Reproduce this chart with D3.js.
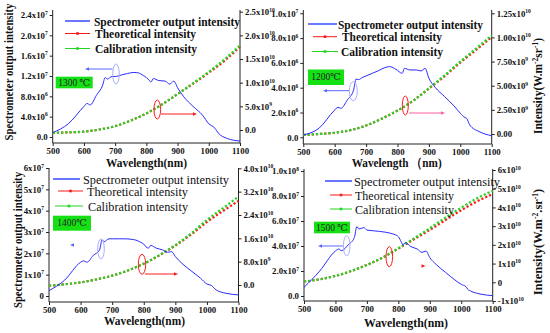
<!DOCTYPE html>
<html>
<head>
<meta charset="utf-8">
<script src="https://cdn.jsdelivr.net/npm/d3@7"></script>
<style>
  body { margin: 0; background: #fff; }
  svg { display: block; }
  svg text { font-family: "Liberation Serif", "DejaVu Serif", serif; }
</style>
</head>
<body>
<svg id="chart" width="550" height="333"></svg>
<script>
"use strict";

// Wavelengths (nm) where the spectrometer curves were read
const specWavelength = [500, 550, 600, 610, 620, 640, 660, 668, 675, 690, 700, 720, 740, 760, 775, 790, 800, 810, 815, 822, 840, 860, 875, 888, 900, 920, 950, 980, 1000, 1015, 1020, 1030, 1060, 1100];

// Spectrometer output intensity for each temperature
const spec1300 = [0.085, 0.26, 0.60, 0.66, 0.63, 0.82, 1.02, 1.17, 1.14, 1.19, 1.19, 1.22, 1.25, 1.27, 1.26, 1.21, 1.17, 1.11, 1.08, 1.15, 1.11, 1.10, 1.04, 1.10, 0.97, 0.79, 0.60, 0.43, 0.26, 0.20, 0.17, 0.08, -0.03, -0.08]; // x1e7
const spec1200 = [0.19, 0.73, 2.2, 2.42, 2.34, 3.0, 3.8, 4.7, 4.65, 4.85, 4.95, 5.16, 5.38, 5.62, 5.7, 5.56, 5.4, 5.2, 5.16, 5.56, 5.43, 5.43, 5.35, 5.56, 4.76, 4.03, 3.28, 2.53, 1.94, 1.59, 1.53, 1.0, 0.46, 0.13]; // x1e6
const spec1400 = [0.25, 0.75, 1.58, 1.65, 1.58, 1.9, 2.16, 2.63, 2.55, 2.68, 2.68, 2.68, 2.68, 2.66, 2.62, 2.52, 2.43, 2.27, 2.25, 2.37, 2.24, 2.16, 2.05, 2.08, 1.85, 1.54, 1.18, 0.83, 0.56, 0.49, 0.41, 0.28, 0.13, 0.05]; // x1e7
const spec1500 = [0.69, 2.0, 3.6, 3.76, 3.63, 4.08, 4.67, 5.55, 5.36, 5.47, 5.28, 5.22, 5.17, 5.1, 5.02, 4.9, 4.75, 4.3, 4.08, 4.27, 3.95, 3.76, 3.49, 3.6, 3.07, 2.53, 1.89, 1.28, 0.93, 0.75, 0.56, 0.4, 0.16, 0.03]; // x1e7

// Wavelengths (nm) for the theoretical / calibration curves
const calWavelength = [500, 550, 600, 650, 700, 750, 800, 850, 900, 950, 1000, 1050, 1100];
const calib1300  = [-0.06, -0.05, -0.035, 0.01, 0.08, 0.20, 0.35, 0.54, 0.76, 0.99, 1.23, 1.49, 1.79]; // x1e10
const theory1300 = [-0.06, -0.05, -0.035, 0.01, 0.08, 0.20, 0.35, 0.54, 0.76, 0.98, 1.21, 1.46, 1.76];
const calib1200  = [-0.1, 0, 0.13, 0.4, 0.88, 1.59, 2.43, 3.45, 4.73, 6.08, 7.5, 8.85, 10.2]; // x1e9
const theory1200 = [-0.1, 0, 0.13, 0.4, 0.88, 1.59, 2.43, 3.45, 4.7, 6.0, 7.4, 8.7, 10.05];
const calib1400  = [-0.23, 0.23, 0.9, 1.9, 3.2, 5.0, 7.3, 10.3, 13.7, 17.7, 22.3, 26.3, 30.3]; // x1e9
const theory1400 = [-0.23, 0.23, 0.9, 1.9, 3.2, 5.0, 7.3, 10.2, 13.5, 17.3, 21.6, 25.3, 28.8];
const calib1500  = [0.04, 0.16, 0.34, 0.6, 0.93, 1.32, 1.82, 2.35, 2.89, 3.46, 3.99, 4.49, 4.88]; // x1e10
const theory1500 = [0.04, 0.16, 0.34, 0.6, 0.93, 1.32, 1.80, 2.30, 2.80, 3.33, 3.85, 4.32, 4.72];

// Tick values and labels ("^" starts the superscript)
const xTicks = [500, 600, 700, 800, 900, 1000, 1100];
const p1LeftTicks = [0, 0.4, 0.8, 1.2, 1.6, 2.0, 2.4];
const p1LeftLabels = ["0.0", "4.0x10^6", "8.0x10^6", "1.2x10^7", "1.6x10^7", "2.0x10^7", "2.4x10^7"];
const p1RightTicks = [0, 0.5, 1.0, 1.5, 2.0, 2.5];
const p1RightLabels = ["0.0", "5.0x10^9", "1.0x10^10", "1.5x10^10", "2.0x10^10", "2.5x10^10"];
const p2LeftTicks = [0, 2, 4, 6, 8, 10];
const p2LeftLabels = ["0.0", "2.0x10^6", "4.0x10^6", "6.0x10^6", "8.0x10^6", "1.0x10^7"];
const p2RightTicks = [0, 2.5, 5, 7.5, 10, 12.5];
const p2RightLabels = ["0.00", "2.50x10^9", "5.00x10^9", "7.50x10^9", "1.00x10^10", "1.25x10^10"];
const p3LeftTicks = [0, 1, 2, 3, 4, 5, 6];
const p3LeftLabels = ["0", "1x10^7", "2x10^7", "3x10^7", "4x10^7", "5x10^7", "6x10^7"];
const p3RightTicks = [0, 8, 16, 24, 32, 40];
const p3RightLabels = ["0.0", "8.0x10^9", "1.6x10^10", "2.4x10^10", "3.2x10^10", "4.0x10^10"];
const p4LeftTicks = [0, 2, 4, 6, 8, 10];
const p4LeftLabels = ["0.0", "2.0x10^7", "4.0x10^7", "6.0x10^7", "8.0x10^7", "1.0x10^8"];
const p4RightTicks = [-1, 0, 1, 2, 3, 4, 5, 6];
const p4RightLabels = ["-1x10^10", "0", "1x10^10", "2x10^10", "3x10^10", "4x10^10", "5x10^10", "6x10^10"];

const legendNames = ["Spectrometer output intensity", "Theoretical intensity", "Calibration intensity"];

const FONT = "Liberation Serif, DejaVu Serif, serif";
const BLUE = "#2a2aff", RED = "#ff1a1a", GREEN = "#22d622", BOX = "#14e014";

const panels = [
  { temp: "1300 \u2103", spec: spec1300, calib: calib1300, theory: theory1300,
    left: 52.7, right: 240, top: 10, bottom: 143,
    yL: [[0, 2.4], [137, 15]], yR: [[0, 2.5], [130, 11.7]],
    lt: [p1LeftTicks, p1LeftLabels], rt: [p1RightTicks, p1RightLabels],
    legend: { bold: true, lines: [[65, 90], [65, 90], [65, 90]], tx: [94, 95, 95], ty: [21, 33.5, 48.5], tw: [146, 101, 102] },
    box: [55.7, 76.7, 37, 11.6],
    xTitle: ["Wavelength(nm)", 146.5, 167, 81],
    yTitle: ["left", 12.5, 72, 137],
    blueNote: { e: [116, 74, 3.3, 10], a: [112.5, 69, 85, 69] },
    redNote: { e: [157.3, 109.5, 3.3, 9.5], a: [161, 114, 197, 114], color: RED } },
  { temp: "1200\u2103", spec: spec1200, calib: calib1200, theory: theory1200,
    left: 303.3, right: 491.7, top: 10, bottom: 144,
    yL: [[0, 10], [137.3, 13.3]], yR: [[0, 12.5], [134, 13.3]],
    lt: [p2LeftTicks, p2LeftLabels], rt: [p2RightTicks, p2RightLabels],
    legend: { bold: true, lines: [[308, 337], [313, 337], [312, 338]], tx: [338, 342, 341], ty: [24, 36.7, 51.5], tw: [145, 100, 102] },
    box: [308, 69.5, 36, 15.5],
    xTitle: ["Wavelength \uff08nm)", 396.7, 166.5, 90],
    yTitle: ["right", 542, 86, 98],
    blueNote: { e: [353.3, 91.2, 4, 9.5], a: [349, 90.7, 323, 90.7] },
    redNote: { e: [405.3, 105.5, 3, 9.5], a: [409, 113, 445, 113], color: "#ff5f9f" } },
  { temp: "1400\u2103", spec: spec1400, calib: calib1400, theory: theory1400,
    left: 49, right: 238.5, top: 168, bottom: 302,
    yL: [[0, 6], [296, 168]], yR: [[0, 40], [285, 168.3]],
    lt: [p3LeftTicks, p3LeftLabels], rt: [p3RightTicks, p3RightLabels],
    legend: { bold: false, lines: [[53, 80], [58, 83], [55, 83]], tx: [83, 87, 88], ty: [179, 191, 206], tw: [146, 101, 100] },
    box: [53, 215.7, 38, 15],
    xTitle: ["Wavelength(nm)", 144.5, 325, 81],
    yTitle: ["left", 22, 240, 136],
    blueNote: { e: [101, 249, 3.3, 10], a: [73, 245, 70, 245] },
    redNote: { e: [142, 264.3, 3.7, 10], a: [145, 274, 178, 274], color: RED } },
  { temp: "1500 \u2103", spec: spec1500, calib: calib1500, theory: theory1500,
    left: 304, right: 492.7, top: 169, bottom: 301,
    yL: [[0, 10], [296, 171]], yR: [[-1, 6], [301, 170]],
    lt: [p4LeftTicks, p4LeftLabels], rt: [p4RightTicks, p4RightLabels],
    legend: { bold: false, lines: [[325, 352], [330, 352], [330, 352]], tx: [354, 355, 355], ty: [181, 195, 209], tw: [146, 99, 99] },
    box: [314, 221.7, 36, 11.6],
    xTitle: ["Wavelength(nm)", 406, 326.5, 84],
    yTitle: ["right2", 542, 242, 105],
    blueNote: { e: [346.7, 245.8, 3.3, 10], a: [343, 246, 318, 246] },
    redNote: { e: [389.3, 256.7, 3.3, 10], a: [423, 266, 425.5, 266], color: RED } }
];

const svg = d3.select("#chart").attr("font-family", FONT);

// Write "2.4x10^7" as base text plus a raised exponent
function superLabel(text, label) {
  const parts = label.split("^");
  text.text(parts[0]);
  if (parts.length > 1) {
    text.append("tspan").attr("dy", -3.5).attr("font-size", 5.5).text(parts[1]);
  }
}

function drawAxes(g, p, x, yL, yR) {
  const bottomAxis = g.append("g").attr("transform", `translate(0,${p.bottom})`)
    .call(d3.axisBottom(x).tickValues(xTicks).tickSize(3).tickPadding(2).tickFormat(d3.format("d")));
  const leftAxis = g.append("g").attr("transform", `translate(${p.left},0)`)
    .call(d3.axisLeft(yL).tickValues(p.lt[0]).tickSize(3).tickPadding(2));
  const rightAxis = g.append("g").attr("transform", `translate(${p.right},0)`)
    .call(d3.axisRight(yR).tickValues(p.rt[0]).tickSize(3).tickPadding(2));

  [bottomAxis, leftAxis, rightAxis].forEach(a => {
    a.attr("font-family", FONT);
    a.select(".domain").remove();
    a.selectAll(".tick line").attr("stroke", "#222");
    a.selectAll(".tick text").attr("font-size", 8.8).attr("font-weight", "bold").attr("fill", "#111");
  });
  leftAxis.selectAll(".tick text").each(function (d, i) { superLabel(d3.select(this), p.lt[1][i]); });
  rightAxis.selectAll(".tick text").each(function (d, i) { superLabel(d3.select(this), p.rt[1][i]); });

  // Frame: left, bottom and right lines (no top line)
  g.append("path")
    .attr("d", `M${p.left},${p.top}V${p.bottom}H${p.right}V${p.top}`)
    .attr("fill", "none").attr("stroke", "#222").attr("stroke-width", 1);
}

function drawLegend(g, p) {
  const L = p.legend;
  const colors = [BLUE, RED, GREEN];
  legendNames.forEach((name, i) => {
    const [x1, x2] = L.lines[i];
    const y = L.ty[i];
    g.append("line").attr("x1", x1).attr("x2", x2).attr("y1", y).attr("y2", y)
      .attr("stroke", i == 0 ? "#6a78ff" : colors[i]).attr("stroke-width", i == 0 ? 2 : 1);
    if (i > 0) {
      g.append("rect").attr("x", (x1 + x2) / 2 - 1.3).attr("y", y - 1.3)
        .attr("width", 2.6).attr("height", 2.6).attr("fill", colors[i]);
    }
    g.append("text").attr("x", L.tx[i]).attr("y", y + 4.5)
      .attr("font-family", FONT).attr("font-size", 13.5).attr("font-weight", L.bold ? "bold" : "normal")
      .attr("textLength", L.tw[i]).attr("lengthAdjust", "spacingAndGlyphs")
      .attr("fill", "#111").text(name);
  });
}

function drawTitles(g, p) {
  const [xt, xx, xy, xw] = p.xTitle;
  g.append("text").attr("x", xx - xw / 2).attr("y", xy)
    .attr("font-family", FONT).attr("font-size", 13).attr("font-weight", "bold")
    .attr("textLength", xw).attr("lengthAdjust", "spacingAndGlyphs")
    .attr("fill", "#111").text(xt);

  const [side, tx, ty, tw] = p.yTitle;
  if (side == "left") {
    g.append("text").attr("transform", `translate(${tx},${ty}) rotate(-90)`)
      .attr("x", -tw / 2).attr("font-family", FONT).attr("font-size", 12.5).attr("font-weight", "bold")
      .attr("textLength", tw).attr("lengthAdjust", "spacingAndGlyphs")
      .attr("fill", "#111").text("Spectrometer output intensity");
  } else {
    const t = g.append("text").attr("transform", `translate(${tx},${ty}) rotate(-90)`)
      .attr("text-anchor", "middle").attr("font-family", FONT).attr("font-size", side == "right" ? 11.5 : 12.5)
      .attr("font-weight", "bold").attr("fill", "#111");
    t.append("tspan").text("Intensity(W.m");
    t.append("tspan").attr("dy", -4).attr("font-size", 7.5).text("-2");
    t.append("tspan").attr("dy", 4).text(side == "right" ? "sr" : ".sr");
    t.append("tspan").attr("dy", -4).attr("font-size", 7.5).text("-1");
    t.append("tspan").attr("dy", 4).text(")");
  }
}

function drawNote(g, note, color, ellipseColor) {
  const [cx, cy, rx, ry] = note.e;
  g.append("ellipse").attr("cx", cx).attr("cy", cy).attr("rx", rx).attr("ry", ry)
    .attr("fill", "none").attr("stroke", ellipseColor).attr("stroke-width", 1);
  const [x1, y1, x2, y2] = note.a;
  const dir = Math.sign(x2 - x1);
  g.append("line").attr("x1", x1).attr("y1", y1).attr("x2", x2 - dir * 3).attr("y2", y2)
    .attr("stroke", color).attr("stroke-width", 1);
  g.append("path")
    .attr("d", `M${x2},${y2}L${x2 - dir * 4},${y2 - 1.8}L${x2 - dir * 4},${y2 + 1.8}Z`)
    .attr("fill", color);
}

function drawPanel(p) {
  const g = svg.append("g");
  const x = d3.scaleLinear().domain([500, 1100]).range([p.left, p.right]);
  const yL = d3.scaleLinear().domain(p.yL[0]).range(p.yL[1]);
  const yR = d3.scaleLinear().domain(p.yR[0]).range(p.yR[1]);

  drawAxes(g, p, x, yL, yR);

  // Theoretical (red) and calibration (green) as dotted curves on the right axis
  const calLine = d3.line().x((d, i) => x(calWavelength[i])).y(d => yR(d)).curve(d3.curveMonotoneX);
  g.append("path").attr("d", calLine(p.theory)).attr("fill", "none")
    .attr("stroke", RED).attr("stroke-width", 2.2).attr("stroke-dasharray", "2.2 2");
  g.append("path").attr("d", calLine(p.calib)).attr("fill", "none")
    .attr("stroke", GREEN).attr("stroke-width", 2.2).attr("stroke-dasharray", "2.2 2");

  // Spectrometer output on the left axis
  const specLine = d3.line().x((d, i) => x(specWavelength[i])).y(d => yL(d)).curve(d3.curveMonotoneX);
  g.append("path").attr("d", specLine(p.spec)).attr("fill", "none")
    .attr("stroke", BLUE).attr("stroke-width", 1);

  // Temperature tag
  const [bx, by, bw, bh] = p.box;
  g.append("rect").attr("x", bx).attr("y", by).attr("width", bw).attr("height", bh).attr("fill", BOX);
  g.append("text").attr("x", bx + bw / 2).attr("y", by + bh / 2 + 3.2).attr("text-anchor", "middle")
    .attr("font-family", FONT).attr("font-size", 9.5).attr("fill", "#222").text(p.temp);

  drawNote(g, p.blueNote, "#5a68ff", "#a9b0ff");
  drawNote(g, p.redNote, p.redNote.color, RED);

  drawLegend(g, p);
  drawTitles(g, p);
}

panels.forEach(drawPanel);
</script>
</body>
</html>
